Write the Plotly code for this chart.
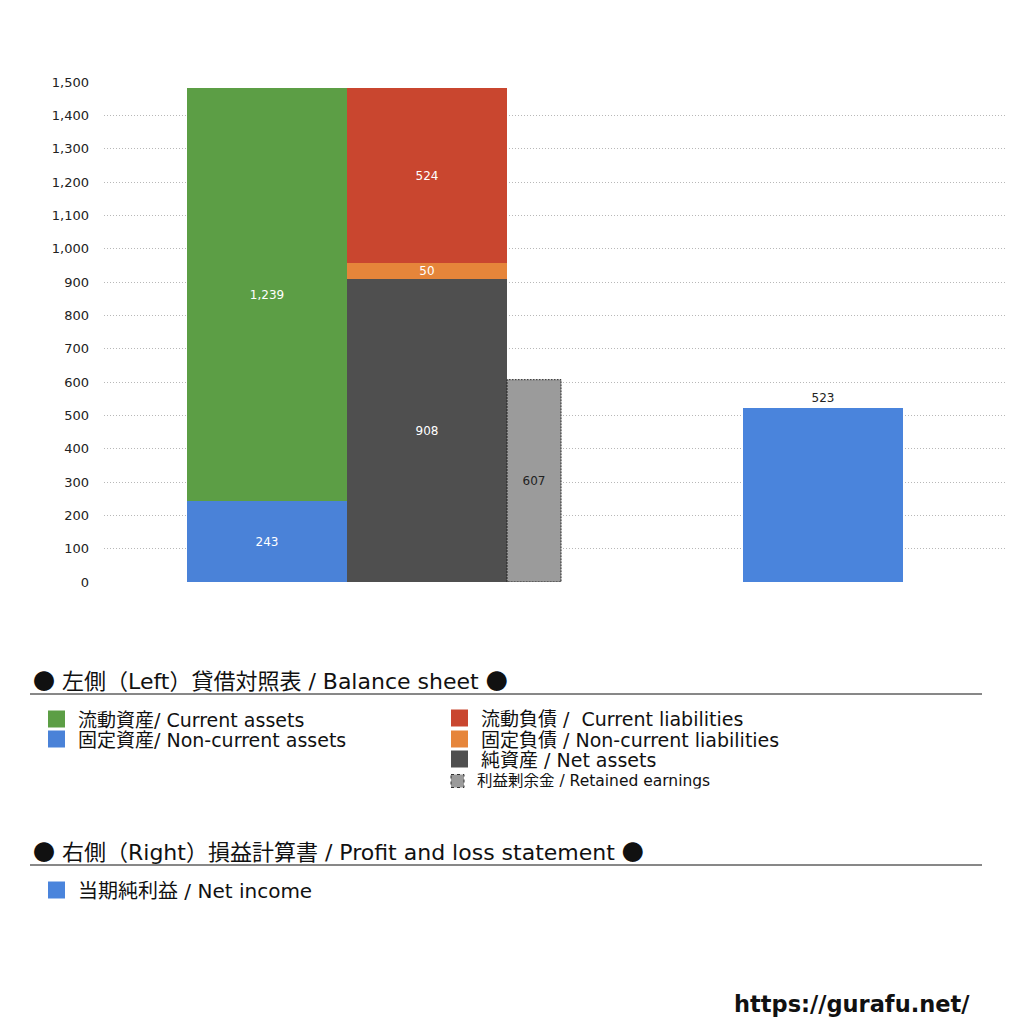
import plotly.graph_objects as go

# values (in units as shown on the chart)
current_assets = 1239
noncurrent_assets = 243
current_liabilities = 524
noncurrent_liabilities = 50
net_assets = 908
retained_earnings = 607
net_income = 523

y_ticks = list(range(0, 1600, 100))

FONT = "DejaVu Sans, Noto Sans CJK JP"
DOT = '<span style="font-family:Noto Sans CJK JP">●</span>'

# bar slots on a numeric x axis (1 unit = one full bar width)
pos_assets = 1.01875
pos_liab = 2.01875
pos_retained = 2.6875
pos_income = 4.49375
retained_width = 0.3375

fig = go.Figure()


def add_bar(x, value, base, color, width=1.0, text_color="white", textpos="inside"):
    fig.add_trace(go.Bar(
        x=[x], y=[value], base=[base], width=[width],
        marker=dict(color=color, line=dict(width=0)),
        text=[f"{value:,}"], textposition=textpos,
        insidetextanchor="middle", textangle=0, constraintext="none",
        textfont=dict(family=FONT, size=12, color=text_color),
        outsidetextfont=dict(family=FONT, size=12, color="#222"),
        cliponaxis=False,
        showlegend=False, hoverinfo="skip",
    ))


# left: balance sheet
add_bar(pos_assets, noncurrent_assets, 0, "#4a82d8")
add_bar(pos_assets, current_assets, noncurrent_assets, "#5c9e45")
add_bar(pos_liab, net_assets, 0, "#4f4f4f")
add_bar(pos_liab, noncurrent_liabilities, net_assets, "#e6853a")
add_bar(pos_liab, current_liabilities, net_assets + noncurrent_liabilities, "#c9462f")
add_bar(pos_retained, retained_earnings, 0, "#9b9b9b", width=retained_width, text_color="#222")

# dotted outline round the retained earnings bar
x0 = pos_retained - retained_width / 2
x1 = pos_retained + retained_width / 2
fig.add_trace(go.Scatter(
    x=[x0, x0, x1, x1, x0], y=[0, retained_earnings, retained_earnings, 0, 0],
    mode="lines", line=dict(color="#222", width=1, dash="2px,1px"),
    showlegend=False, hoverinfo="skip", cliponaxis=False,
))

# right: profit and loss
add_bar(pos_income, net_income, 0, "#4a84dc", textpos="outside")

fig.update_layout(
    width=1024, height=1024,
    margin=dict(l=96, r=27, t=74, b=450),
    plot_bgcolor="white", paper_bgcolor="white",
    barmode="overlay", bargap=0,
    font=dict(family=FONT, color="#222"),
)
fig.update_xaxes(range=[0, 901 / 160], visible=False, fixedrange=True)
fig.update_yaxes(
    range=[0, 1500], tickvals=y_ticks, tickformat=",",
    showgrid=True, gridcolor="#b8b8b8", griddash="1px,2px", gridwidth=1,
    zeroline=False,
    ticks="", ticklabelstandoff=14,
    tickfont=dict(family=FONT, size=13, color="#222"),
)


# helpers for placing legend parts by picture pixels
def px_x(x):
    return (x - 104) / 901


def px_y(y):
    return (582 - y) / 500


shapes = []
annotations = []


def header(text, y_text, y_line):
    annotations.append(dict(
        x=px_x(31), y=px_y(y_text), xref="paper", yref="paper",
        text=text, showarrow=False, xanchor="left", yanchor="middle",
        font=dict(family=FONT, size=22, color="#111"),
    ))
    shapes.append(dict(
        type="line", xref="paper", yref="paper",
        x0=px_x(30), x1=px_x(982), y0=px_y(y_line), y1=px_y(y_line),
        line=dict(color="#111", width=1),
    ))


def item(x, y, color, text, size=17, fsize=19, dotted=False):
    shapes.append(dict(
        type="rect", xref="paper", yref="paper",
        x0=px_x(x), x1=px_x(x + size), y0=px_y(y - size / 2), y1=px_y(y + size / 2),
        fillcolor=color,
        line=dict(color="#333", width=1, dash="dot") if dotted else dict(width=0),
    ))
    annotations.append(dict(
        x=px_x(x + size + 12), y=px_y(y), xref="paper", yref="paper",
        text=text, showarrow=False, xanchor="left", yanchor="middle",
        height=min(fsize, 19), borderpad=0,
        font=dict(family=FONT, size=fsize, color="#111"),
    ))


header(f"{DOT} 左側（Left）貸借対照表 / Balance sheet {DOT}", 679, 694)
item(48, 719, "#5c9e45", "流動資産/ Current assets")
item(48, 739, "#4a82d8", "固定資産/ Non-current assets")
item(451, 718, "#c9462f", "流動負債 /  Current liabilities")
item(451, 739, "#e6853a", "固定負債 / Non-current liabilities")
item(451, 759, "#4f4f4f", "純資産 / Net assets")
item(451, 781, "#9b9b9b", "利益剰余金 / Retained earnings", size=13, fsize=15.5, dotted=True)

header(f"{DOT} 右側（Right）損益計算書 / Profit and loss statement {DOT}", 850, 865)
item(48, 890, "#4a84dc", "当期純利益 / Net income", fsize=20)

annotations.append(dict(
    x=px_x(972), y=px_y(1004), xref="paper", yref="paper",
    text="<b>https://gurafu.net/</b>", showarrow=False,
    xanchor="right", yanchor="middle",
    font=dict(family="DejaVu Sans", size=22.5, color="#111"),
))

fig.update_layout(shapes=shapes, annotations=annotations)

fig.write_html("out.html")
